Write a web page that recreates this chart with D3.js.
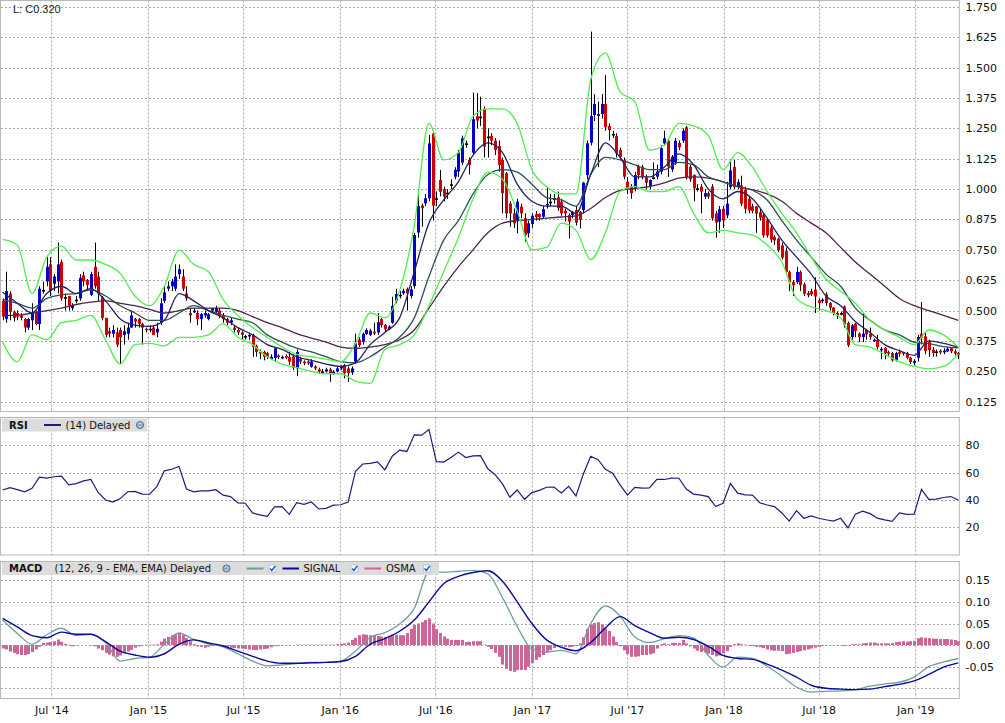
<!DOCTYPE html>
<html>
<head>
<meta charset="utf-8">
<script src="https://cdn.jsdelivr.net/npm/d3@7/dist/d3.min.js"></script>
<style>
body { margin: 0; background: #fff; }
svg { display: block; font-family: "DejaVu Sans", Verdana, sans-serif; }
</style>
</head>
<body>
<script>
// weekly candles, first week starts Sun 30 Mar 2014
let open = [.54,.465,.57,.495,.49,.48,.465,.43,.46,.495,
  .445,.585,.62,.69,.61,.62,.70,.555,.56,.51,
  .545,.55,.645,.625,.565,.68,.64,.555,.47,.415,
  .405,.41,.42,.40,.405,.43,.465,.465,.445,.425,
  .42,.43,.41,.45,.54,.59,.60,.59,.65,.64,
  .57,.49,.493,.49,.465,.48,.465,.50,.495,.50,
  .48,.465,.45,.43,.42,.41,.395,.395,.40,.355,
  .33,.33,.325,.30,.305,.315,.303,.313,.31,.31,
  .262,.302,.29,.29,.269,.27,.258,.249,.249,.258,
  .242,.249,.262,.276,.262,.245,.29,.38,.372,.404,
  .40,.413,.41,.465,.441,.423,.45,.541,.565,.571,
  .589,.56,.601,.821,.932,.941,.962,1.229,.962,1.037,
  1.0,.985,1.02,1.051,1.072,1.109,1.188,1.12,1.15,1.30,
  1.298,1.33,1.216,1.218,1.199,1.177,1.12,1.065,.941,.90,
  .873,.928,.88,.818,.856,.897,.897,.886,.933,.948,
  .962,.966,.948,.911,.893,.893,.914,.907,.914,1.058,
  1.191,1.305,1.301,1.309,1.35,1.26,1.227,1.218,1.161,1.12,
  1.03,1.01,1.003,1.095,1.092,1.048,1.013,1.048,1.051,1.072,
  1.188,1.199,1.081,1.109,1.19,1.199,1.254,1.092,1.058,1.003,
  1.01,.969,.983,1.01,.90,.866,.919,.892,1.008,1.091,
  1.008,1.015,.997,.96,.929,.929,.905,.892,.871,.841,
  .803,.796,.768,.745,.659,.617,.617,.659,.608,.572,
  .58,.586,.542,.539,.567,.531,.512,.49,.49,.517,
  .449,.391,.446,.405,.391,.421,.405,.375,.38,.336,
  .347,.329,.325,.295,.329,.329,.323,.306,.284,.306,
  .405,.394,.371,.339,.332,.335,.328,.332,.345,.332,.325]
let high = [.55,.66,.58,.50,.50,.49,.47,.47,.53,.50,
  .60,.62,.72,.72,.65,.78,.71,.57,.56,.53,
  .56,.65,.66,.63,.66,.78,.66,.56,.47,.43,
  .44,.43,.43,.44,.45,.50,.47,.47,.45,.43,
  .44,.44,.45,.55,.60,.62,.63,.69,.69,.67,
  .60,.51,.51,.50,.49,.50,.49,.51,.52,.51,
  .49,.47,.47,.44,.43,.415,.40,.41,.405,.36,
  .34,.335,.33,.32,.35,.32,.315,.32,.33,.32,
  .34,.31,.295,.295,.30,.275,.265,.26,.265,.265,
  .255,.27,.275,.28,.27,.27,.405,.39,.41,.427,
  .425,.45,.49,.47,.445,.44,.557,.59,.58,.59,
  .595,.60,.82,.996,.94,.98,1.223,1.24,.99,1.079,
  1.01,1.0,1.04,1.09,1.16,1.22,1.20,1.13,1.397,1.394,
  1.38,1.34,1.25,1.23,1.21,1.20,1.13,1.07,.95,.92,
  .96,.94,.90,.87,.90,.91,.90,.93,1.01,.98,
  .98,.99,.96,.92,.90,.91,.93,.91,1.03,1.20,
  1.648,1.39,1.36,1.391,1.469,1.27,1.24,1.23,1.17,1.13,
  1.05,1.02,1.07,1.10,1.10,1.06,1.04,1.11,1.10,1.18,
  1.24,1.21,1.14,1.21,1.20,1.25,1.26,1.10,1.06,1.02,
  1.02,1.0,.99,1.02,.91,.93,.93,1.03,1.12,1.12,
  1.04,1.055,1.01,.97,.94,.93,.92,.90,.88,.85,
  .81,.80,.78,.76,.665,.625,.68,.665,.615,.58,
  .59,.637,.55,.55,.575,.535,.515,.495,.495,.52,
  .455,.445,.45,.41,.49,.425,.43,.385,.40,.35,
  .35,.335,.33,.33,.34,.33,.33,.31,.30,.40,
  .535,.41,.38,.35,.34,.34,.345,.35,.35,.34,.33]
let low = [.46,.45,.46,.455,.46,.46,.41,.42,.42,.44,
  .42,.57,.60,.56,.58,.57,.54,.50,.50,.50,
  .53,.54,.60,.58,.56,.59,.54,.46,.39,.39,
  .39,.35,.28,.36,.38,.43,.43,.43,.36,.41,
  .41,.40,.39,.44,.53,.58,.58,.58,.63,.58,
  .54,.45,.49,.44,.42,.47,.46,.49,.49,.47,
  .45,.44,.44,.41,.40,.38,.38,.38,.31,.31,
  .30,.295,.30,.30,.29,.30,.30,.30,.276,.255,
  .23,.28,.275,.276,.265,.255,.24,.24,.245,.207,
  .235,.245,.255,.221,.207,.235,.285,.35,.36,.40,
  .395,.40,.40,.43,.41,.42,.445,.53,.55,.565,
  .50,.55,.59,.80,.845,.93,.95,.87,.93,.97,
  .95,.96,1.0,1.04,1.05,1.10,1.17,1.06,1.14,1.25,
  1.26,1.13,1.13,1.18,1.14,1.072,.90,.88,.845,.84,
  .818,.88,.784,.80,.84,.87,.87,.88,.92,.93,
  .94,.91,.89,.866,.797,.88,.85,.838,.90,1.04,
  1.18,1.28,1.09,1.29,1.24,1.20,1.21,1.13,1.12,1.04,
  .98,.96,.99,1.04,1.04,1.0,1.0,1.04,1.04,1.06,
  1.18,1.05,1.07,1.10,1.16,1.19,1.04,1.03,.95,.99,
  .90,.96,.96,.87,.80,.82,.84,.88,1.0,1.0,
  1.0,.93,.90,.90,.90,.82,.87,.80,.80,.78,
  .77,.74,.71,.65,.58,.56,.61,.58,.56,.555,
  .56,.49,.50,.53,.52,.50,.48,.465,.48,.43,
  .35,.38,.39,.37,.37,.38,.38,.37,.34,.30,
  .30,.31,.29,.29,.31,.315,.30,.28,.275,.29,
  .36,.32,.31,.31,.31,.32,.32,.33,.325,.315,.30]
let close = [.475,.58,.495,.47,.475,.47,.43,.465,.49,.445,
  .59,.585,.68,.58,.64,.69,.55,.555,.52,.52,
  .545,.635,.62,.605,.65,.60,.57,.47,.40,.405,
  .42,.36,.39,.415,.43,.48,.455,.445,.43,.42,
  .425,.40,.425,.53,.575,.60,.62,.64,.67,.59,
  .55,.48,.50,.465,.485,.49,.485,.51,.51,.48,
  .465,.45,.46,.42,.41,.40,.395,.40,.35,.33,
  .325,.31,.31,.31,.345,.31,.31,.308,.29,.265,
  .33,.29,.283,.283,.29,.262,.25,.249,.258,.242,
  .249,.262,.27,.242,.242,.262,.365,.358,.404,.42,
  .417,.406,.452,.44,.423,.434,.519,.568,.565,.581,
  .571,.587,.811,.93,.921,.962,1.188,.932,.962,.989,
  .969,.985,1.02,1.079,1.15,1.209,1.188,1.099,1.287,1.282,
  1.298,1.175,1.216,1.199,1.161,1.099,.983,.90,.90,.859,
  .948,.90,.811,.859,.89,.884,.884,.917,.939,.948,
  .962,.921,.90,.90,.866,.907,.862,.873,1.026,1.188,
  1.301,1.35,1.309,1.35,1.254,1.243,1.227,1.147,1.133,1.051,
  1.003,.983,1.058,1.058,1.051,1.026,1.037,1.048,1.072,1.168,
  1.209,1.092,1.133,1.199,1.172,1.24,1.048,1.04,1.003,1.003,
  .989,.983,.969,.88,.862,.917,.871,.94,1.077,1.008,
  1.029,.94,.919,.912,.91,.899,.882,.809,.809,.792,
  .789,.748,.718,.659,.617,.604,.659,.604,.569,.563,
  .567,.558,.531,.545,.531,.512,.49,.48,.49,.443,
  .357,.439,.416,.391,.405,.402,.391,.38,.35,.343,
  .325,.323,.295,.325,.323,.323,.306,.288,.292,.391,
  .388,.334,.337,.325,.332,.328,.335,.343,.332,.323,.32]

// overlays read every 4th week
let bbUpper = [.793,.77,.57,.72,.765,.708,.708,.69,.653,.56,.52,.60,.749,.69,.66,.545,.48,
  .43,.39,.35,.32,.31,.30,.29,.365,.49,.47,.58,.85,1.27,1.12,1.15,1.30,1.33,
  1.33,1.27,1.08,1.01,.98,.98,1.45,1.56,1.40,1.36,1.16,1.18,1.27,1.26,1.22,1.08,
  1.15,1.09,.99,.90,.82,.72,.63,.58,.53,.46,.42,.39,.36,.42,.40,.35]
let bbLower = [.37,.29,.40,.38,.45,.46,.48,.38,.28,.36,.365,.355,.39,.39,.40,.445,.39,
  .36,.31,.28,.265,.25,.24,.24,.21,.20,.34,.36,.40,.52,.66,.80,.96,1.07,
  1.04,.91,.75,.76,.86,.83,.71,.82,.99,1.01,.99,.99,1.01,.90,.82,.83,
  .82,.81,.77,.70,.55,.515,.50,.47,.36,.35,.32,.29,.27,.26,.27,.32]
let maFast = [.575,.53,.49,.57,.60,.57,.59,.54,.465,.44,.435,.46,.57,.54,.50,.47,.43,
  .40,.36,.34,.31,.295,.28,.27,.285,.36,.41,.47,.66,.86,.955,1.03,1.14,1.19,
  1.15,1.02,.95,.93,.93,.90,1.06,1.19,1.13,1.05,1.05,1.09,1.145,1.10,1.00,.96,
  .99,.96,.88,.79,.72,.65,.56,.52,.455,.41,.36,.335,.316,.375,.365,.35]
let maMid = [.545,.53,.51,.55,.565,.57,.585,.56,.52,.49,.46,.46,.49,.52,.50,.48,.465,
  .45,.40,.37,.345,.33,.31,.29,.285,.31,.35,.39,.47,.64,.79,.87,.98,1.06,
  1.08,1.07,1.02,.965,.955,.93,1.06,1.13,1.12,1.10,1.08,1.08,1.11,1.10,1.05,1.03,
  1.01,.995,.955,.87,.79,.72,.65,.60,.51,.46,.42,.40,.37,.364,.352,.347]
let maSlow = [.48,.48,.49,.50,.51,.525,.535,.54,.53,.52,.505,.49,.50,.51,.51,.51,.50,
  .475,.45,.43,.405,.387,.37,.35,.345,.35,.36,.38,.42,.51,.60,.68,.75,.82,
  .86,.87,.875,.88,.885,.89,.92,.965,.995,1.003,1.01,1.025,1.045,1.05,1.045,1.03,
  1.01,.997,.98,.95,.90,.86,.82,.76,.70,.65,.60,.55,.52,.50,.48,.46]

// RSI (14) read every 2nd week
let rsi = [47.3,49,47.6,46,48.5,56.7,56,57,57.5,51,52,54,55,45.5,40,38.5,41,46,46.3,44.3,
  44.2,50,61.3,62.5,64.5,48,46,46.6,46.6,47.5,43.5,42.5,37.9,37.6,30.5,29.1,28,35,35.1,29.5,
  38,36.8,38.5,33.4,33.9,36.2,36.5,38.5,61,66.3,66.8,67.9,62,72,76.5,75.5,87.7,87.4,91.6,68,
  67.7,71,75,71,72.3,72.4,62.8,58.5,51.8,42,47.3,40.5,45.4,47,49.3,49.5,45.2,50,43,59,
  72,69.5,62.4,59.5,51,43.5,49.2,48.7,48.8,55,55,56,55.9,48,44.3,43.6,42.5,35.2,37.6,52,
  45,43.7,43.5,38,36.3,35.1,30.5,24.5,32.2,26.6,28.3,26.6,25.5,24.6,26.6,19.5,29.5,31.8,30,26.7,
  25.4,24.3,30.5,29.5,29.7,47.8,40.5,40.6,41.8,42.5,40]

// MACD (12, 26, 9) and signal read every 4th week, OSMA weekly
let macd = [.058,.027,.002,.024,.039,.022,.025,.006,-.037,-.031,-.028,.002,.028,.013,.003,-.004,-.02,
  -.037,-.048,-.046,-.043,-.04,-.04,-.037,-.014,.018,.029,.049,.085,.169,.169,.171,.173,.165,
  .11,.043,-.009,-.016,-.012,-.02,.05,.091,.067,.019,.006,.015,.022,.017,-.024,-.051,
  -.028,-.031,-.049,-.072,-.097,-.109,-.107,-.106,-.103,-.095,-.09,-.086,-.074,-.05,-.039,-.031]
let signal = [.062,.042,.022,.017,.030,.025,.025,.008,-.014,-.023,-.028,-.02,.002,.012,.005,-.002,-.014,
  -.026,-.037,-.042,-.042,-.041,-.04,-.038,-.026,.002,.015,.032,.058,.10,.142,.159,.168,.172,
  .148,.10,.05,.012,-.005,-.013,.006,.04,.066,.045,.029,.016,.018,.013,-.003,-.024,
  -.031,-.033,-.044,-.058,-.074,-.093,-.1,-.102,-.103,-.102,-.096,-.091,-.083,-.068,-.051,-.041]
let osma = [-.008,-.01,-.015,-.018,-.021,-.023,-.023,-.021,-.016,-.01,
  -.004,.005,.006,.007,.009,.013,.008,.003,.001,-.003,
  -.001,0,0,0,-.001,-.003,-.008,-.012,-.018,-.022,
  -.026,-.027,-.024,-.019,-.015,-.011,-.006,-.003,-.001,.001,
  .001,.001,.002,.008,.015,.019,.023,.025,.028,.024,
  .016,.009,.002,-.003,-.004,-.006,-.004,-.002,0,-.001,
  -.003,-.004,-.006,-.007,-.008,-.008,-.009,-.01,-.011,-.012,
  -.01,-.009,-.008,-.005,-.002,-.002,-.001,-.001,-.001,0,
  .001,.001,.001,.001,.001,.001,.001,.001,.001,.001,
  .001,.002,.003,.004,.006,.012,.017,.023,.025,.024,
  .023,.022,.021,.02,.019,.022,.025,.024,.023,.023,
  .028,.038,.047,.05,.053,.058,.062,.05,.037,.028,
  .02,.015,.012,.012,.012,.012,.007,.008,.009,.009,
  .009,.001,-.004,-.009,-.018,-.027,-.045,-.055,-.06,-.062,
  -.058,-.058,-.058,-.05,-.042,-.034,-.028,-.023,-.016,-.012,
  -.007,-.004,-.002,-.004,-.005,-.004,-.002,.004,.018,.038,
  .048,.051,.053,.048,.039,.033,.02,.007,-.003,-.012,
  -.021,-.027,-.027,-.026,-.023,-.023,-.021,-.019,-.008,.002,
  .004,.002,.005,.005,.005,.012,.004,-.003,-.008,-.013,
  -.016,-.017,-.02,-.023,-.026,-.024,-.019,-.014,-.004,.002,
  .004,.002,.001,-.001,-.002,-.004,-.005,-.007,-.01,-.012,
  -.013,-.013,-.014,-.021,-.02,-.018,-.016,-.014,-.012,-.01,
  -.008,-.006,-.004,-.002,-.001,-.001,-.001,-.001,-.001,-.002,
  -.001,.002,.002,.002,.004,.005,.006,.006,.004,.004,
  .004,.004,.005,.007,.008,.009,.008,.009,.01,.016,
  .018,.017,.016,.015,.015,.014,.014,.014,.013,.012,.009]

let priceTicks = [0.125,0.25,0.375,0.5,0.625,0.75,0.875,1,1.125,1.25,1.375,1.5,1.625,1.75]
let rsiTicks = [20,40,60,80]
let macdTicks = [-0.10,-0.05,0,0.05,0.10,0.15]
let timeTicks = ["2014-07-01","2015-01-01","2015-07-01","2016-01-01","2016-07-01",
  "2017-01-01","2017-07-01","2018-01-01","2018-07-01","2019-01-01"]

let width = 1005, height = 723
let plotRight = 959.3
let gridColor = "#a9a9a9"
let frameColor = "#b8b8b8"

let svg = d3.select("body").append("svg").attr("width", width).attr("height", height)

let parseDay = d3.timeParse("%Y-%m-%d")
let firstWeek = parseDay("2014-03-30")
let weeks = close.map((d, i) => d3.timeWeek.offset(firstWeek, i))
let tickDates = timeTicks.map(parseDay)

let x = d3.scaleTime().domain([parseDay("2014-03-25"), parseDay("2019-03-26")]).range([0, plotRight])
let yPrice = d3.scaleLinear().domain([0.125, 1.75]).range([401.7, 6.8])
let yRsi = d3.scaleLinear().domain([20, 80]).range([527.3, 445.3])
let yMacd = d3.scaleLinear().domain([-0.10, 0.15]).range([688.3, 580.3])

let panels = [
    {id: "clipMain", top: 0.5, bottom: 411.5},
    {id: "clipRsi", top: 417.5, bottom: 555},
    {id: "clipMacd", top: 561.5, bottom: 698.5}
]

let defs = svg.append("defs")
panels.forEach(p => {
    defs.append("clipPath").attr("id", p.id).append("rect")
        .attr("x", 0.5).attr("y", p.top).attr("width", plotRight).attr("height", p.bottom - p.top)
})

// vertical grid for every panel
panels.forEach(p => {
    svg.append("g").selectAll("line").data(tickDates).join("line")
        .attr("x1", d => Math.round(x(d)) + 0.5).attr("x2", d => Math.round(x(d)) + 0.5)
        .attr("y1", p.top).attr("y2", p.bottom)
        .attr("stroke", gridColor).attr("stroke-dasharray", "2,2")
})

// horizontal grid + right labels
function rightAxis(scale, ticks, fmt) {
    let g = svg.append("g")
        .attr("transform", "translate(" + Math.round(plotRight) + ",0)")
        .call(d3.axisRight(scale.copy().interpolate(d3.interpolateRound))
            .tickValues(ticks).tickSize(-plotRight).tickPadding(6.5).tickFormat(fmt))
    g.select(".domain").remove()
    g.selectAll(".tick line").attr("stroke", gridColor).attr("stroke-dasharray", "2,2")
    g.selectAll(".tick text").attr("fill", "#111").attr("font-size", 11)
        .attr("font-family", '"DejaVu Sans", Verdana, sans-serif')
}
rightAxis(yPrice, priceTicks, d3.format(".3f"))
rightAxis(yRsi, rsiTicks, d3.format("d"))
rightAxis(yMacd, macdTicks, d => d < -0.075 ? "" : d.toFixed(2))

// frames
panels.forEach(p => {
    svg.append("rect").attr("x", 0.5).attr("y", p.top)
        .attr("width", plotRight - 0.5).attr("height", p.bottom - p.top)
        .attr("fill", "none").attr("stroke", frameColor)
})

// ---- price panel
let main = svg.append("g").attr("clip-path", "url(#clipMain)")

let candle = main.selectAll("g.candle").data(close).join("g")
    .attr("class", "candle")
    .attr("transform", (d, i) => "translate(" + (Math.round(x(weeks[i])) + 0.5) + ",0)")

candle.append("line")
    .attr("y1", (d, i) => yPrice(high[i]))
    .attr("y2", (d, i) => yPrice(low[i]))
    .attr("stroke", "#000")

candle.append("rect")
    .attr("x", -1.5).attr("width", 3)
    .attr("y", (d, i) => Math.min(yPrice(open[i]), yPrice(close[i])))
    .attr("height", (d, i) => Math.max(1.6, Math.abs(yPrice(open[i]) - yPrice(close[i]))))
    .attr("fill", (d, i) => close[i] > open[i] ? "#0000d0" : close[i] < open[i] ? "#d00000" : "#000")

let every4 = (d, k) => x(weeks[k * 4])
function overlay(data, color, w) {
    main.append("path")
        .attr("d", d3.line().x(every4).y(d => yPrice(d)).curve(d3.curveMonotoneX)(data))
        .attr("fill", "none").attr("stroke", color).attr("stroke-width", w)
}
overlay(maSlow, "#4e2450", 1.3)
overlay(maMid, "#2c5252", 1.3)
overlay(maFast, "#23235e", 1.3)
overlay(bbUpper, "#4cf04c", 1.3)
overlay(bbLower, "#4cf04c", 1.3)

svg.append("text").attr("x", 13).attr("y", 13)
    .attr("font-family", '"Liberation Sans", Arial, sans-serif').attr("font-size", 11)
    .attr("fill", "#222").text("L: C0.320")

// ---- RSI panel
svg.append("g").attr("clip-path", "url(#clipRsi)").append("path")
    .attr("d", d3.line().x((d, k) => x(weeks[k * 2])).y(d => yRsi(d))(rsi))
    .attr("fill", "none").attr("stroke", "#1c1c80").attr("stroke-width", 1.2)

// ---- MACD panel
let mg = svg.append("g").attr("clip-path", "url(#clipMacd)")
mg.selectAll("rect").data(osma).join("rect")
    .attr("x", (d, i) => Math.round(x(weeks[i])) - 1)
    .attr("width", 3)
    .attr("y", d => Math.min(yMacd(d), yMacd(0)))
    .attr("height", d => Math.abs(yMacd(d) - yMacd(0)))
    .attr("fill", "#cc6699")
mg.append("path")
    .attr("d", d3.line().x(every4).y(d => yMacd(d)).curve(d3.curveMonotoneX)(macd))
    .attr("fill", "none").attr("stroke", "#6f9e9e").attr("stroke-width", 1.3)
mg.append("path")
    .attr("d", d3.line().x(every4).y(d => yMacd(d)).curve(d3.curveMonotoneX)(signal))
    .attr("fill", "none").attr("stroke", "#0a0aa0").attr("stroke-width", 1.4)

// x axis labels
let xa = svg.append("g").attr("transform", "translate(0,698)")
    .call(d3.axisBottom(x).tickValues(tickDates).tickSize(0).tickPadding(8)
        .tickFormat(d3.timeFormat("%b '%y")))
xa.select(".domain").remove()
xa.selectAll("text").attr("font-size", 11).attr("fill", "#111")
    .attr("font-family", '"DejaVu Sans", Verdana, sans-serif')

// ---- legends
function globe(cx, cy) {
    svg.append("circle").attr("cx", cx).attr("cy", cy).attr("r", 3.6)
        .attr("fill", "#8aa4c0").attr("stroke", "#4d6a8a").attr("stroke-width", 0.8)
    svg.append("path").attr("d", `M${cx - 2},${cy - 1} q2,-2 4,0 M${cx - 1.5},${cy + 1.5} q2,1 3.5,-1`)
        .attr("fill", "none").attr("stroke", "#e8eef5").attr("stroke-width", 0.8)
}
function check(cx, cy) {
    svg.append("rect").attr("x", cx - 3.5).attr("y", cy - 3.5).attr("width", 7).attr("height", 7)
        .attr("fill", "#fff").attr("stroke", "#9fb3c8").attr("stroke-width", 0.6)
    svg.append("path").attr("d", `M${cx - 2.5},${cy} L${cx - 0.7},${cy + 2} L${cx + 2.8},${cy - 2.6}`)
        .attr("fill", "none").attr("stroke", "#1a62d6").attr("stroke-width", 1.6)
}
function legText(x0, y0, t, bold) {
    svg.append("text").attr("x", x0).attr("y", y0).attr("font-size", 10)
        .attr("font-weight", bold ? "bold" : "normal").attr("fill", "#111").text(t)
}
function legLine(x1, x2, y0, color) {
    svg.append("line").attr("x1", x1).attr("x2", x2).attr("y1", y0).attr("y2", y0)
        .attr("stroke", color).attr("stroke-width", 2)
}

svg.append("rect").attr("x", 2).attr("y", 418.5).attr("width", 145).attr("height", 13).attr("fill", "#dcdcdc")
legText(9, 428.8, "RSI", true)
legLine(44, 61, 425, "#1c1c80")
legText(65.5, 428.8, "(14) Delayed", false)
globe(140, 425)

svg.append("rect").attr("x", 2).attr("y", 562).attr("width", 437).attr("height", 13).attr("fill", "#dcdcdc")
legText(9, 572.3, "MACD", true)
legText(54.5, 572.3, "(12, 26, 9 - EMA, EMA) Delayed", false)
globe(226.5, 568.5)
legLine(246.5, 263.5, 568.5, "#6f9e9e")
check(272.5, 568.5)
legLine(282.5, 299, 568.5, "#0a0aa0")
legText(303.5, 572.3, "SIGNAL", false)
check(354.5, 568.5)
legLine(364.5, 381, 568.5, "#cc6699")
legText(386, 572.3, "OSMA", false)
check(427, 568.5)
</script>
</body>
</html>
